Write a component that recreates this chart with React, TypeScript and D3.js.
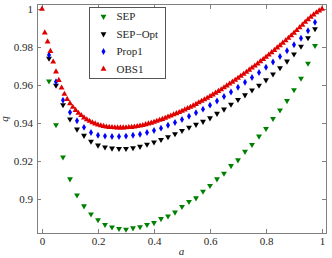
import React, { useRef, useEffect } from "react";
import * as d3 from "d3";

// a grid used by SEP, SEP-Opt and Prop1
const aCoarse = [
  0.025, 0.05, 0.075, 0.1, 0.125, 0.15, 0.175, 0.2, 0.225, 0.25, 0.275, 0.3, 0.325,
  0.35, 0.375, 0.4, 0.425, 0.45, 0.475, 0.5, 0.525, 0.55, 0.575, 0.6, 0.625, 0.65,
  0.675, 0.7, 0.725, 0.75, 0.775, 0.8, 0.825, 0.85, 0.875, 0.9, 0.925, 0.95, 0.975,
];

const sepValues = [
  0.962, 0.939, 0.922, 0.9105, 0.902, 0.8963, 0.892, 0.889, 0.8865, 0.8852, 0.8844,
  0.884, 0.8847, 0.8853, 0.8865, 0.8875, 0.8896, 0.891, 0.893, 0.896, 0.8986, 0.9005,
  0.904, 0.907, 0.9105, 0.9135, 0.9175, 0.9205, 0.925, 0.9286, 0.933, 0.937, 0.9423,
  0.9468, 0.9517, 0.9574, 0.9635, 0.9714, 0.9807,
];

const sepOptValues = [
  0.974, 0.9598, 0.9495, 0.942, 0.9367, 0.9334, 0.9303, 0.9283, 0.9273, 0.9267,
  0.9265, 0.9265, 0.9269, 0.9276, 0.9287, 0.9299, 0.9312, 0.9327, 0.9343, 0.936,
  0.9377, 0.9392, 0.9408, 0.9426, 0.945, 0.9472, 0.9498, 0.9523, 0.9547, 0.9573,
  0.9598, 0.9626, 0.9657, 0.969, 0.9725, 0.9762, 0.9803, 0.9848, 0.9895,
];

const prop1Values = [
  0.9758, 0.9617, 0.952, 0.9456, 0.9412, 0.9377, 0.935, 0.9336, 0.9331, 0.9329,
  0.9329, 0.9331, 0.9335, 0.9341, 0.935, 0.936, 0.9373, 0.9388, 0.9403, 0.9418,
  0.9436, 0.9454, 0.9473, 0.9494, 0.9516, 0.9539, 0.9563, 0.9588, 0.9614, 0.964,
  0.9666, 0.9693, 0.9721, 0.975, 0.978, 0.9812, 0.9846, 0.9885, 0.993,
];

// OBS1 is sampled finer
const aFine = [
  0, 0.01, 0.02, 0.03, 0.04, 0.05, 0.06, 0.07, 0.08, 0.09,
  0.1, 0.11, 0.12, 0.13, 0.14, 0.15, 0.16, 0.17, 0.18, 0.19,
  0.2, 0.21, 0.22, 0.23, 0.24, 0.25, 0.26, 0.27, 0.28, 0.29,
  0.3, 0.31, 0.32, 0.33, 0.34, 0.35, 0.36, 0.37, 0.38, 0.39,
  0.4, 0.41, 0.42, 0.43, 0.44, 0.45, 0.46, 0.47, 0.48, 0.49,
  0.5, 0.51, 0.52, 0.53, 0.54, 0.55, 0.56, 0.57, 0.58, 0.59,
  0.6, 0.61, 0.62, 0.63, 0.64, 0.65, 0.66, 0.67, 0.68, 0.69,
  0.7, 0.71, 0.72, 0.73, 0.74, 0.75, 0.76, 0.77, 0.78, 0.79,
  0.8, 0.81, 0.82, 0.83, 0.84, 0.85, 0.86, 0.87, 0.88, 0.89,
  0.9, 0.91, 0.92, 0.93, 0.94, 0.95, 0.96, 0.97, 0.98, 0.99, 1,
];

const obs1Values = [
  1.0, 0.9875, 0.9828, 0.9778, 0.9722, 0.967, 0.9625, 0.9585, 0.9552, 0.9525,
  0.9503, 0.9484, 0.9467, 0.9452, 0.944, 0.9428, 0.9418, 0.941, 0.9402, 0.9396,
  0.939, 0.9386, 0.9383, 0.938, 0.9378, 0.9377, 0.9376, 0.9375, 0.9375, 0.9375,
  0.9376, 0.9377, 0.9378, 0.938, 0.9382, 0.9385, 0.9388, 0.9392, 0.9396, 0.94,
  0.9405, 0.941, 0.9415, 0.942, 0.9426, 0.9432, 0.9438, 0.9444, 0.945, 0.9456,
  0.9463, 0.947, 0.9477, 0.9484, 0.9491, 0.9499, 0.9507, 0.9515, 0.9523, 0.9531,
  0.954, 0.9549, 0.9558, 0.9567, 0.9576, 0.9586, 0.9596, 0.9606, 0.9616, 0.9626,
  0.9636, 0.9647, 0.9657, 0.9668, 0.9679, 0.969, 0.9701, 0.9712, 0.9724, 0.9735,
  0.9747, 0.9759, 0.9771, 0.9783, 0.9796, 0.9808, 0.9821, 0.9834, 0.9847, 0.986,
  0.9874, 0.9888, 0.9902, 0.9916, 0.9931, 0.9945, 0.9958, 0.997, 0.9981, 0.9991, 1.0,
];

const xTicks = [0, 0.2, 0.4, 0.6, 0.8, 1];
const yTicks = [0.9, 0.92, 0.94, 0.96, 0.98, 1];
const legendNames = ["SEP", "SEP\u2212Opt", "Prop1", "OBS1"];

const FONT = '"Liberation Serif", "Times New Roman", serif';

const Chart = () => {
  const svgRef = useRef(null);

  useEffect(() => {
    drawChart();
  }, []);

  const drawChart = () => {
    if (!svgRef.current) return;
    const svg = d3.select(svgRef.current);
    svg.selectAll("*").remove();

    const box = { left: 37, right: 326, top: 5, bottom: 233 };
    const x = d3.scaleLinear().domain([0, 1]).range([42, 322]);
    const y = d3.scaleLinear().domain([0.9, 1]).range([199, 9]);

    svg.append("rect").attr("width", 332).attr("height", 258).attr("fill", "#fff");

    const styleAxis = (g) => {
      g.select(".domain").remove();
      g.selectAll("line").attr("stroke", "#808080");
      g.selectAll("text")
        .attr("font-family", FONT)
        .attr("font-size", 11)
        .attr("fill", "#262626");
    };

    svg
      .append("g")
      .attr("transform", `translate(0,${box.bottom})`)
      .call(d3.axisBottom(x).tickValues(xTicks).tickSize(-4).tickPadding(4).tickFormat((d) => String(d)))
      .call(styleAxis);
    svg
      .append("g")
      .attr("transform", `translate(0,${box.top})`)
      .call(d3.axisTop(x).tickValues(xTicks).tickSize(-4).tickFormat(() => ""))
      .call(styleAxis);
    svg
      .append("g")
      .attr("transform", `translate(${box.left},0)`)
      .call(d3.axisLeft(y).tickValues(yTicks).tickSize(-4).tickPadding(4).tickFormat((d) => String(d)))
      .call(styleAxis);
    svg
      .append("g")
      .attr("transform", `translate(${box.right},0)`)
      .call(d3.axisRight(y).tickValues(yTicks).tickSize(-4).tickFormat(() => ""))
      .call(styleAxis);

    svg
      .append("rect")
      .attr("x", box.left + 0.5)
      .attr("y", box.top - 0.5)
      .attr("width", box.right - box.left)
      .attr("height", box.bottom - box.top + 1)
      .attr("fill", "none")
      .attr("stroke", "#808080")
      .attr("stroke-width", 1);

    const tri = d3.symbol().type(d3.symbolTriangle).size(15)();
    const dia = d3.symbol().type(d3.symbolDiamond).size(14)();

    const series = [
      { a: aCoarse, v: sepValues, color: "#008000", path: tri, rot: 180 },
      { a: aCoarse, v: sepOptValues, color: "#000000", path: tri, rot: 180 },
      { a: aCoarse, v: prop1Values, color: "#0000ff", path: dia, rot: 0 },
      { a: aFine, v: obs1Values, color: "#e00000", path: tri, rot: 0 },
    ];

    series.forEach((s) => {
      svg
        .append("g")
        .selectAll("path")
        .data(s.a.map((a, i) => ({ a, q: s.v[i] })))
        .enter()
        .append("path")
        .attr("d", s.path)
        .attr("fill", s.color)
        .attr("transform", (d) => `translate(${x(d.a)},${y(d.q)}) rotate(${s.rot})`);
    });

    // legend
    const lg = svg.append("g");
    lg.append("rect")
      .attr("x", 89.5)
      .attr("y", 7.5)
      .attr("width", 76)
      .attr("height", 71)
      .attr("fill", "#fff")
      .attr("stroke", "#555")
      .attr("stroke-width", 1);
    series.forEach((s, i) => {
      const yy = 20 + i * 17.5;
      lg.append("path")
        .attr("d", s.path)
        .attr("fill", s.color)
        .attr("transform", `translate(103.5,${yy - 3.5}) rotate(${s.rot})`);
      lg.append("text")
        .attr("x", 116.5)
        .attr("y", yy)
        .attr("font-family", FONT)
        .attr("font-size", 11)
        .attr("fill", "#262626")
        .text(legendNames[i]);
    });

    svg
      .append("text")
      .attr("x", (box.left + box.right) / 2)
      .attr("y", 254.5)
      .attr("text-anchor", "middle")
      .attr("font-family", FONT)
      .attr("font-style", "italic")
      .attr("font-size", 11)
      .attr("fill", "#262626")
      .text("a");
    svg
      .append("text")
      .attr("transform", `translate(8,${(box.top + box.bottom) / 2}) rotate(-90)`)
      .attr("text-anchor", "middle")
      .attr("font-family", FONT)
      .attr("font-style", "italic")
      .attr("font-size", 11)
      .attr("fill", "#262626")
      .text("q");
  };

  return (
    <svg
      ref={svgRef}
      width={332}
      height={258}
      style={{ position: "absolute", left: 0, top: 0, display: "block" }}
    />
  );
};

export default function App() {
  return <Chart />;
}
